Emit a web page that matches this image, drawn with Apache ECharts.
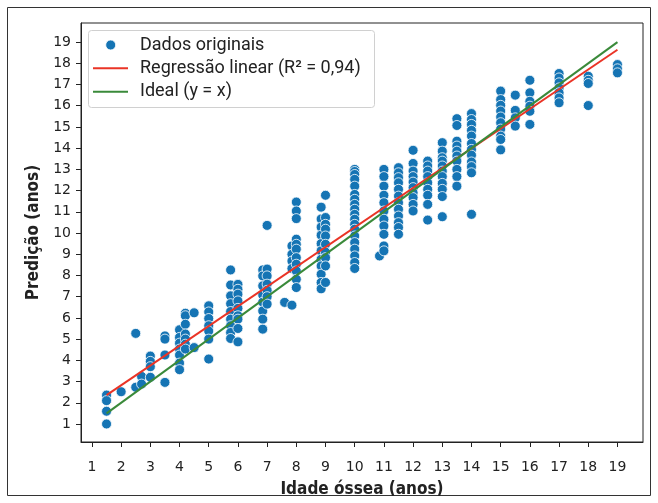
<!DOCTYPE html>
<html><head><meta charset="utf-8">
<script src="https://cdn.jsdelivr.net/npm/echarts@6/dist/echarts.min.js"></script>
<style>html,body{margin:0;padding:0;background:#fff}#c{width:658px;height:503px}</style>
</head><body><div id="c"></div>
<script>
// x positions of the point columns (bone age, years)
const colX = [1.5, 2.0, 2.5, 2.7, 3.0, 3.5, 4.0, 4.2, 4.5, 5.0, 5.75, 6.0, 6.85, 7.0, 7.6, 7.85, 8.0, 8.85, 9.0, 10.0, 10.85, 11.0, 11.5, 12.0, 12.5, 13.0, 13.5, 14.0, 15.0, 15.5, 16.0, 17.0, 18.0, 19.0];
// predicted values for each column
const colY = [
  [2.36, 2.1, 1.6, 1.0],
  [2.52],
  [5.27, 2.73],
  [3.24, 2.88],
  [4.2, 3.95, 3.7, 3.2],
  [5.15, 5.0, 4.25, 2.96],
  [5.44, 5.08, 4.81, 4.53, 4.25, 3.87, 3.56],
  [6.22, 6.1, 5.7, 5.24, 5.0, 4.76, 4.53],
  [6.24, 4.6],
  [6.57, 6.28, 5.97, 5.63, 5.38, 5.0, 4.06],
  [8.26, 7.55, 7.04, 6.67, 6.3, 5.94, 5.63, 5.31, 5.03],
  [7.58, 7.35, 7.12, 6.8, 6.45, 6.1, 5.94, 5.5, 4.87],
  [8.26, 7.98, 7.51, 7.08, 6.74, 6.33, 5.94, 5.47],
  [10.36, 8.3, 7.98, 7.59, 7.3, 7.0, 6.65],
  [6.73],
  [9.39, 9.0, 8.68, 8.33, 6.6],
  [11.46, 11.04, 10.68, 9.71, 9.47, 9.24, 8.84, 8.53, 8.21, 7.82, 7.43],
  [11.22, 10.66, 10.28, 9.9, 9.5, 9.16, 8.76, 8.45, 8.06, 7.67, 7.37],
  [11.78, 10.73, 10.41, 10.18, 9.86, 9.47, 9.1, 8.84, 8.45, 7.67],
  [13.0, 12.9, 12.76, 12.53, 12.21, 11.82, 11.59, 11.35, 11.12, 10.88, 10.65, 10.41, 10.18, 9.86, 9.55, 9.24, 8.92, 8.61, 8.33],
  [8.92],
  [13.0, 12.66, 12.21, 11.78, 11.43, 11.04, 10.65, 10.33, 9.94, 9.39, 9.16],
  [13.08, 12.84, 12.61, 12.37, 12.06, 11.74, 11.43, 11.12, 10.8, 10.49, 10.26, 9.94],
  [13.9, 13.28, 12.92, 12.66, 12.4, 12.14, 11.9, 11.67, 11.35, 11.04],
  [13.39, 13.16, 12.92, 12.66, 12.37, 12.06, 11.78, 11.35, 10.61],
  [14.26, 13.86, 13.55, 13.39, 13.16, 12.92, 12.66, 12.34, 12.06, 11.72, 10.77],
  [15.39, 15.07, 14.33, 14.1, 13.86, 13.63, 13.39, 13.0, 12.66, 12.21],
  [15.63, 15.35, 15.12, 14.84, 14.57, 14.22, 13.94, 13.67, 13.35, 13.13, 12.84, 10.88],
  [16.69, 16.29, 16.02, 15.75, 15.47, 15.2, 14.9, 14.57, 14.41, 13.92],
  [16.5, 15.78, 15.43, 15.04],
  [17.2, 16.61, 16.21, 15.98, 15.74, 15.12],
  [17.52, 17.31, 17.08, 16.84, 16.61, 16.37, 16.14],
  [17.39, 17.2, 17.05, 16.01],
  [17.94, 17.74, 17.55]
];
// fitted regression line end points
const regressionLine = [[1.5, 2.36], [19, 18.64]];
// ideal y = x line end points
const idealLine = [[1.5, 1.5], [19, 19]];
const tickValues = [1,2,3,4,5,6,7,8,9,10,11,12,13,14,15,16,17,18,19];
const names = ['Dados originais', 'Regressão linear (R² = 0,94)', 'Ideal (y = x)'];
const xTitle = 'Idade óssea (anos)';
const yTitle = 'Predição (anos)';

const BLUE = '#1574b4', RED = '#ea3426', GREEN = '#3a8a3a';

const points = [];
colX.forEach((x, i) => colY[i].forEach(y => points.push([x, y])));

const tickFont = {fontFamily: 'DejaVu Sans', fontSize: 14, color: '#222'};
const titleFont = {fontFamily: '"Liberation Sans Narrow","DejaVu Sans Condensed",sans-serif', fontWeight: 'bold', fontSize: 17, color: '#222'};
const legendFont = {fontFamily: 'Roboto', fontSize: 18, fill: '#222'};

// legend drawn as graphic elements (text kept as real text)
const legendRows = [45, 68.3, 91.7];
const legendGraphics = [
  {type: 'rect', shape: {x: 88.5, y: 30.5, width: 286, height: 77, r: 3}, style: {fill: 'rgba(255,255,255,0.85)', stroke: '#d0d0d0', lineWidth: 1}, z: 50},
  {type: 'circle', shape: {cx: 110.7, cy: legendRows[0], r: 5}, style: {fill: BLUE, stroke: '#fff', lineWidth: 0.8}, z: 51},
  {type: 'line', shape: {x1: 93, y1: legendRows[1], x2: 128, y2: legendRows[1]}, style: {stroke: RED, lineWidth: 2}, z: 51},
  {type: 'line', shape: {x1: 93, y1: legendRows[2], x2: 128, y2: legendRows[2]}, style: {stroke: GREEN, lineWidth: 2}, z: 51}
].concat(names.map((n, i) => ({
  type: 'text', x: 140, y: legendRows[i], z: 51,
  style: Object.assign({text: n, textVerticalAlign: 'middle', verticalAlign: 'middle'}, legendFont)
})));

const chart = echarts.init(document.getElementById('c'), null, {renderer: 'canvas'});
chart.setOption({
  animation: false,
  backgroundColor: '#fff',
  grid: {left: 81, right: 15, top: 23, bottom: 60, show: true, borderColor: '#222', borderWidth: 1, backgroundColor: 'transparent'},
  graphic: [
    {type: 'rect', shape: {x: 7.5, y: 7.5, width: 643, height: 488}, style: {fill: 'none', stroke: '#333', lineWidth: 1}, z: -10}
  ].concat(legendGraphics),
  xAxis: {
    type: 'value', min: 0.625, max: 19.875,
    name: xTitle, nameLocation: 'middle', nameGap: 39, nameTextStyle: titleFont,
    splitLine: {show: false},
    axisLine: {show: true, onZero: false, lineStyle: {color: '#222', width: 1}},
    axisTick: {show: true, length: 5, customValues: tickValues, lineStyle: {color: '#222'}},
    axisLabel: Object.assign({customValues: tickValues, margin: 18}, tickFont)
  },
  yAxis: {
    type: 'value', min: 0.15, max: 19.9,
    name: yTitle, nameLocation: 'middle', nameGap: 39, nameRotate: 90, nameTextStyle: titleFont,
    splitLine: {show: false},
    axisLine: {show: true, onZero: false, lineStyle: {color: '#222', width: 1}},
    axisTick: {show: true, length: 5, customValues: tickValues, lineStyle: {color: '#222'}},
    axisLabel: Object.assign({customValues: tickValues, margin: 10}, tickFont)
  },
  series: [
    {name: names[0], type: 'scatter', data: points, symbol: 'circle', symbolSize: 10,
     itemStyle: {color: BLUE, borderColor: '#ffffff', borderWidth: 0.8, opacity: 1}, z: 2},
    {name: names[1], type: 'line', data: regressionLine, symbol: 'none',
     lineStyle: {color: RED, width: 2}, itemStyle: {color: RED}, z: 3},
    {name: names[2], type: 'line', data: idealLine, symbol: 'none',
     lineStyle: {color: GREEN, width: 2}, itemStyle: {color: GREEN}, z: 4}
  ]
});
</script></body></html>
